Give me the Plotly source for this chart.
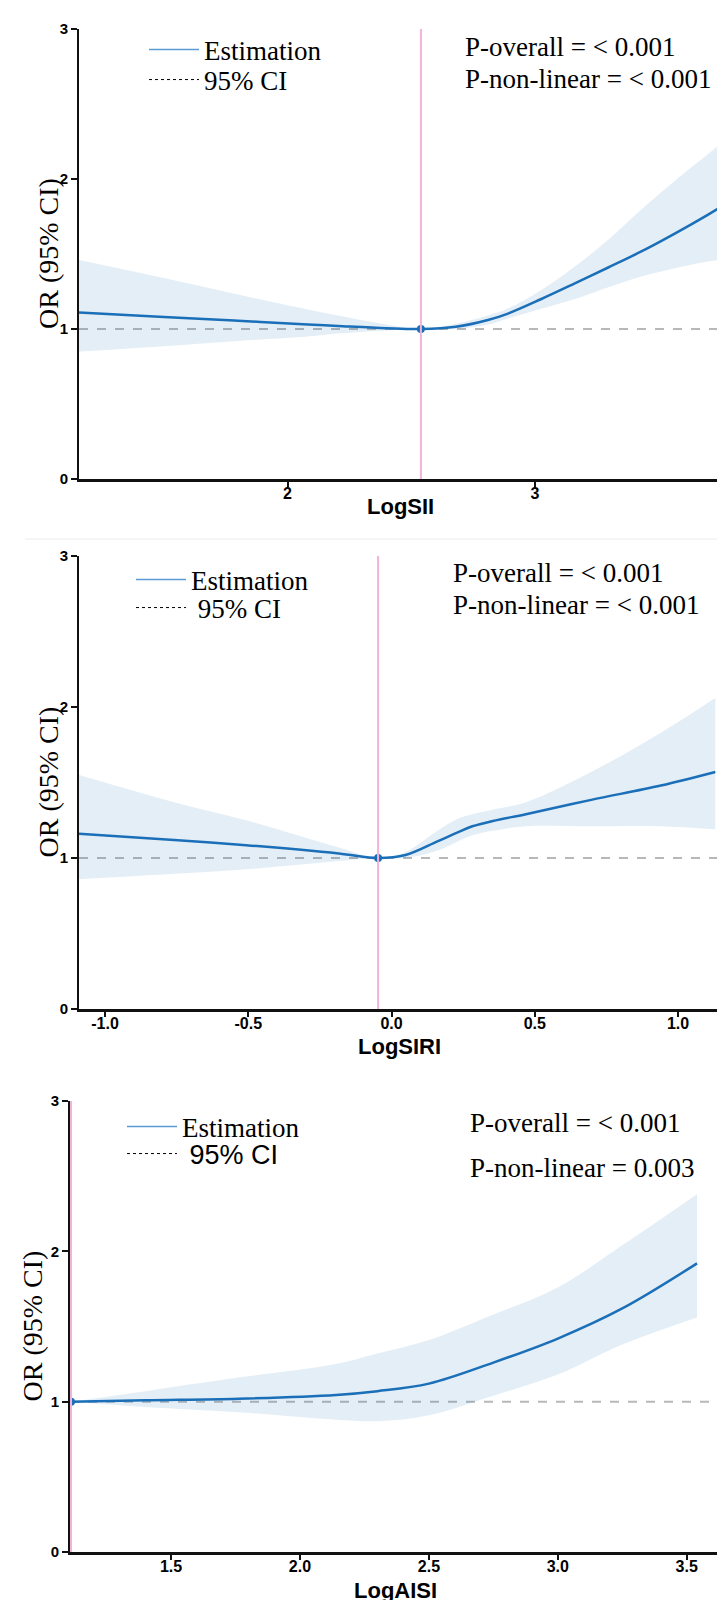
import plotly.graph_objects as go

W, H = 725, 1600

# ---------------- Panel 1: LogSII ----------------
sii_x   = [1.157, 1.50, 1.80, 2.082, 2.204, 2.40, 2.539, 2.68, 2.81, 2.891, 3.026, 3.161, 3.296, 3.43, 3.565, 3.70, 3.744]
sii_est = [1.11, 1.08, 1.055, 1.03, 1.02, 1.005, 1.00, 1.015, 1.06, 1.103, 1.20, 1.304, 1.41, 1.517, 1.636, 1.763, 1.807]
sii_lo  = [0.85, 0.885, 0.92, 0.95, 0.97, 0.99, 1.00, 1.00, 1.03, 1.07, 1.135, 1.20, 1.278, 1.35, 1.405, 1.45, 1.46]
sii_hi  = [1.46, 1.34, 1.23, 1.13, 1.09, 1.03, 1.00, 1.035, 1.09, 1.136, 1.26, 1.416, 1.595, 1.797, 1.987, 2.166, 2.226]
sii_ref = 2.539
sii_ticks = [2, 3]
sii_ticktext = ["2", "3"]
sii_range = [1.157, 3.756]

# ---------------- Panel 2: LogSIRI ----------------
siri_x   = [-1.091, -0.759, -0.508, -0.184, -0.047, 0.049, 0.160, 0.231, 0.282, 0.353, 0.469, 0.697, 0.940, 1.13]
siri_est = [1.16, 1.12, 1.085, 1.03, 1.00, 1.02, 1.11, 1.17, 1.21, 1.245, 1.29, 1.385, 1.48, 1.57]
siri_lo  = [0.86, 0.895, 0.925, 0.98, 1.00, 1.00, 1.05, 1.11, 1.15, 1.18, 1.21, 1.21, 1.21, 1.19]
siri_hi  = [1.55, 1.37, 1.25, 1.07, 1.00, 1.04, 1.18, 1.26, 1.29, 1.32, 1.37, 1.57, 1.83, 2.06]
siri_ref = -0.047
siri_ticks = [-1.0, -0.5, 0.0, 0.5, 1.0]
siri_ticktext = ["-1.0", "-0.5", "0.0", "0.5", "1.0"]
siri_range = [-1.091, 1.143]

# ---------------- Panel 3: LogAISI ----------------
aisi_x   = [1.112, 1.40, 1.76, 2.14, 2.30, 2.50, 2.75, 3.00, 3.25, 3.54]
aisi_est = [1.00, 1.01, 1.02, 1.045, 1.07, 1.12, 1.26, 1.42, 1.62, 1.92]
aisi_lo  = [1.00, 0.965, 0.93, 0.88, 0.87, 0.91, 1.04, 1.18, 1.38, 1.56]
aisi_hi  = [1.00, 1.07, 1.16, 1.25, 1.32, 1.41, 1.58, 1.76, 2.04, 2.38]
aisi_ref = 1.112
aisi_ticks = [1.5, 2.0, 2.5, 3.0, 3.5]
aisi_ticktext = ["1.5", "2.0", "2.5", "3.0", "3.5"]
aisi_range = [1.108, 3.629]

x_titles = ["LogSII", "LogSIRI", "LogAISI"]
p_overall = ["P-overall = < 0.001", "P-overall = < 0.001", "P-overall = < 0.001"]
p_nonlin = ["P-non-linear = < 0.001", "P-non-linear = < 0.001", "P-non-linear = 0.003"]
y_title = "OR (95% CI)"
y_ticks = [0, 1, 2, 3]

BLUE = "#1a6fb8"
LEG_BLUE = "#5b9bd5"
BAND = "rgba(33,113,181,0.12)"
PINK = "#f2b3d9"
REFGRAY = "#b8b8b8"
SERIF = "Liberation Serif"
SANS = "Liberation Sans"

panels = [
    dict(x=sii_x, est=sii_est, lo=sii_lo, hi=sii_hi, ref=sii_ref, ticks=sii_ticks, ticktext=sii_ticktext, rng=sii_range),
    dict(x=siri_x, est=siri_est, lo=siri_lo, hi=siri_hi, ref=siri_ref, ticks=siri_ticks, ticktext=siri_ticktext, rng=siri_range),
    dict(x=aisi_x, est=aisi_est, lo=aisi_lo, hi=aisi_hi, ref=aisi_ref, ticks=aisi_ticks, ticktext=aisi_ticktext, rng=aisi_range),
]

NBSP = "\u00a0"
# layout geometry (pixels)
geo = [
    dict(x0=71, x1=714, top=21, bot=471, ytx=40, xty=498, leg_x=136, leg_y=(42, 72),
         pann=(455, 39, 71), ci_name="95% CI"),
    dict(x0=71, x1=711, top=548, bot=1001, ytx=40, xty=1038, leg_x=123, leg_y=(572, 600),
         pann=(443, 565, 597), ci_name=NBSP + "95% CI"),
    dict(x0=62, x1=712, top=1093, bot=1544, ytx=24, xty=1582, leg_x=114, leg_y=(1119, 1146),
         pann=(460, 1115, 1160), ci_name="<span style='font-family:Liberation Sans'>" + NBSP + "95% CI</span>"),
]

fig = go.Figure()
layout = dict(width=W, height=H, margin=dict(l=0, r=0, t=0, b=0, autoexpand=False),
              paper_bgcolor="white", plot_bgcolor="white", showlegend=True,
              annotations=[], shapes=[])

for i, (p, g) in enumerate(zip(panels, geo)):
    n = "" if i == 0 else str(i + 1)
    xa, ya = "x" + n, "y" + n
    leg_a = "legend" + ("" if i == 0 else str(2 * i + 1))
    leg_b = "legend" + str(2 * i + 2)
    fig.add_trace(go.Scatter(x=p["x"], y=p["hi"], mode="lines", line=dict(width=0, shape="spline"),
                             xaxis=xa, yaxis=ya, showlegend=False, hoverinfo="skip"))
    fig.add_trace(go.Scatter(x=p["x"], y=p["lo"], mode="lines", line=dict(width=0, shape="spline"),
                             fill="tonexty", fillcolor=BAND, xaxis=xa, yaxis=ya, showlegend=False, hoverinfo="skip"))
    fig.add_trace(go.Scatter(x=p["x"], y=p["est"], mode="lines", line=dict(color=BLUE, width=2.5, shape="spline"),
                             xaxis=xa, yaxis=ya, showlegend=False))
    fig.add_trace(go.Scatter(x=[p["ref"]], y=[1], mode="markers", marker=dict(color=BLUE, size=8),
                             xaxis=xa, yaxis=ya, showlegend=False))
    # legend entries
    fig.add_trace(go.Scatter(x=[None], y=[None], mode="lines", name="Estimation",
                             line=dict(color=LEG_BLUE, width=1.5), xaxis=xa, yaxis=ya, legend=leg_a))
    fig.add_trace(go.Scatter(x=[None], y=[None], mode="lines", name=g["ci_name"],
                             line=dict(color="black", width=1, dash="dot"), xaxis=xa, yaxis=ya, legend=leg_b))

    dom_x = [g["x0"] / W, g["x1"] / W]
    dom_y = [1 - g["bot"] / H, 1 - g["top"] / H]
    layout["xaxis" + n] = dict(domain=dom_x, range=p["rng"], anchor=ya, showgrid=False, zeroline=False,
                               automargin=False, showline=True, linecolor="#111", linewidth=2.5,
                               ticks="outside", ticklen=5, tickwidth=1.5, tickcolor="#111",
                               ticklabelstandoff=-7,
                               tickvals=p["ticks"], ticktext=p["ticktext"],
                               tickfont=dict(family=SANS, size=16, color="black", weight="bold"))
    layout["yaxis" + n] = dict(domain=dom_y, range=[0, 3], anchor=xa, showgrid=False, zeroline=False,
                               automargin=False, showline=True, linecolor="#111", linewidth=2,
                               ticks="outside", ticklen=6, tickwidth=1.5, tickcolor="#111",
                               tickvals=y_ticks,
                               tickfont=dict(family=SANS, size=15, color="black", weight="bold"))
    for leg, ty in ((leg_a, g["leg_y"][0]), (leg_b, g["leg_y"][1])):
        layout[leg] = dict(x=g["leg_x"] / W, y=1 - ty / H, xanchor="left", yanchor="middle",
                           bgcolor="rgba(0,0,0,0)", font=dict(family=SERIF, size=27, color="black"),
                           itemwidth=50)
    # axis titles
    layout["annotations"].append(dict(text=y_title, xref="paper", yref="paper", textangle=-90,
                                      x=g["ytx"] / W, y=1 - (g["top"] + g["bot"]) / 2 / H,
                                      xanchor="center", yanchor="middle", showarrow=False,
                                      font=dict(family=SERIF, size=28, color="black")))
    layout["annotations"].append(dict(text=x_titles[i], xref="paper", yref="paper",
                                      x=(g["x0"] + g["x1"]) / 2 / W, y=1 - g["xty"] / H,
                                      xanchor="center", yanchor="middle", showarrow=False,
                                      font=dict(family=SANS, size=22, color="black", weight="bold")))
    # reference line at OR = 1 and vertical reference line
    layout["shapes"].append(dict(type="line", xref=xa + " domain", yref=ya, x0=0, x1=1, y0=1, y1=1,
                                 line=dict(color=REFGRAY, width=2, dash="dash"), layer="below"))
    layout["shapes"].append(dict(type="line", xref=xa, yref=ya + " domain", x0=p["ref"], x1=p["ref"], y0=0, y1=1,
                                 line=dict(color=PINK, width=2), layer="above"))
    layout["annotations"].append(dict(text=p_overall[i], xref="paper", yref="paper",
                                      x=g["pann"][0] / W, y=1 - g["pann"][1] / H, xanchor="left", yanchor="middle",
                                      showarrow=False, font=dict(family=SERIF, size=27, color="black")))
    layout["annotations"].append(dict(text=p_nonlin[i], xref="paper", yref="paper",
                                      x=g["pann"][0] / W, y=1 - g["pann"][2] / H, xanchor="left", yanchor="middle",
                                      showarrow=False, font=dict(family=SERIF, size=27, color="black")))

# faint separator between first and second panels
layout["shapes"].append(dict(type="line", xref="paper", yref="paper", x0=17 / W, x1=1, y0=1 - 531 / H, y1=1 - 531 / H,
                             line=dict(color="#ececec", width=1)))

fig.update_layout(**layout)
fig.write_html("out.html")
